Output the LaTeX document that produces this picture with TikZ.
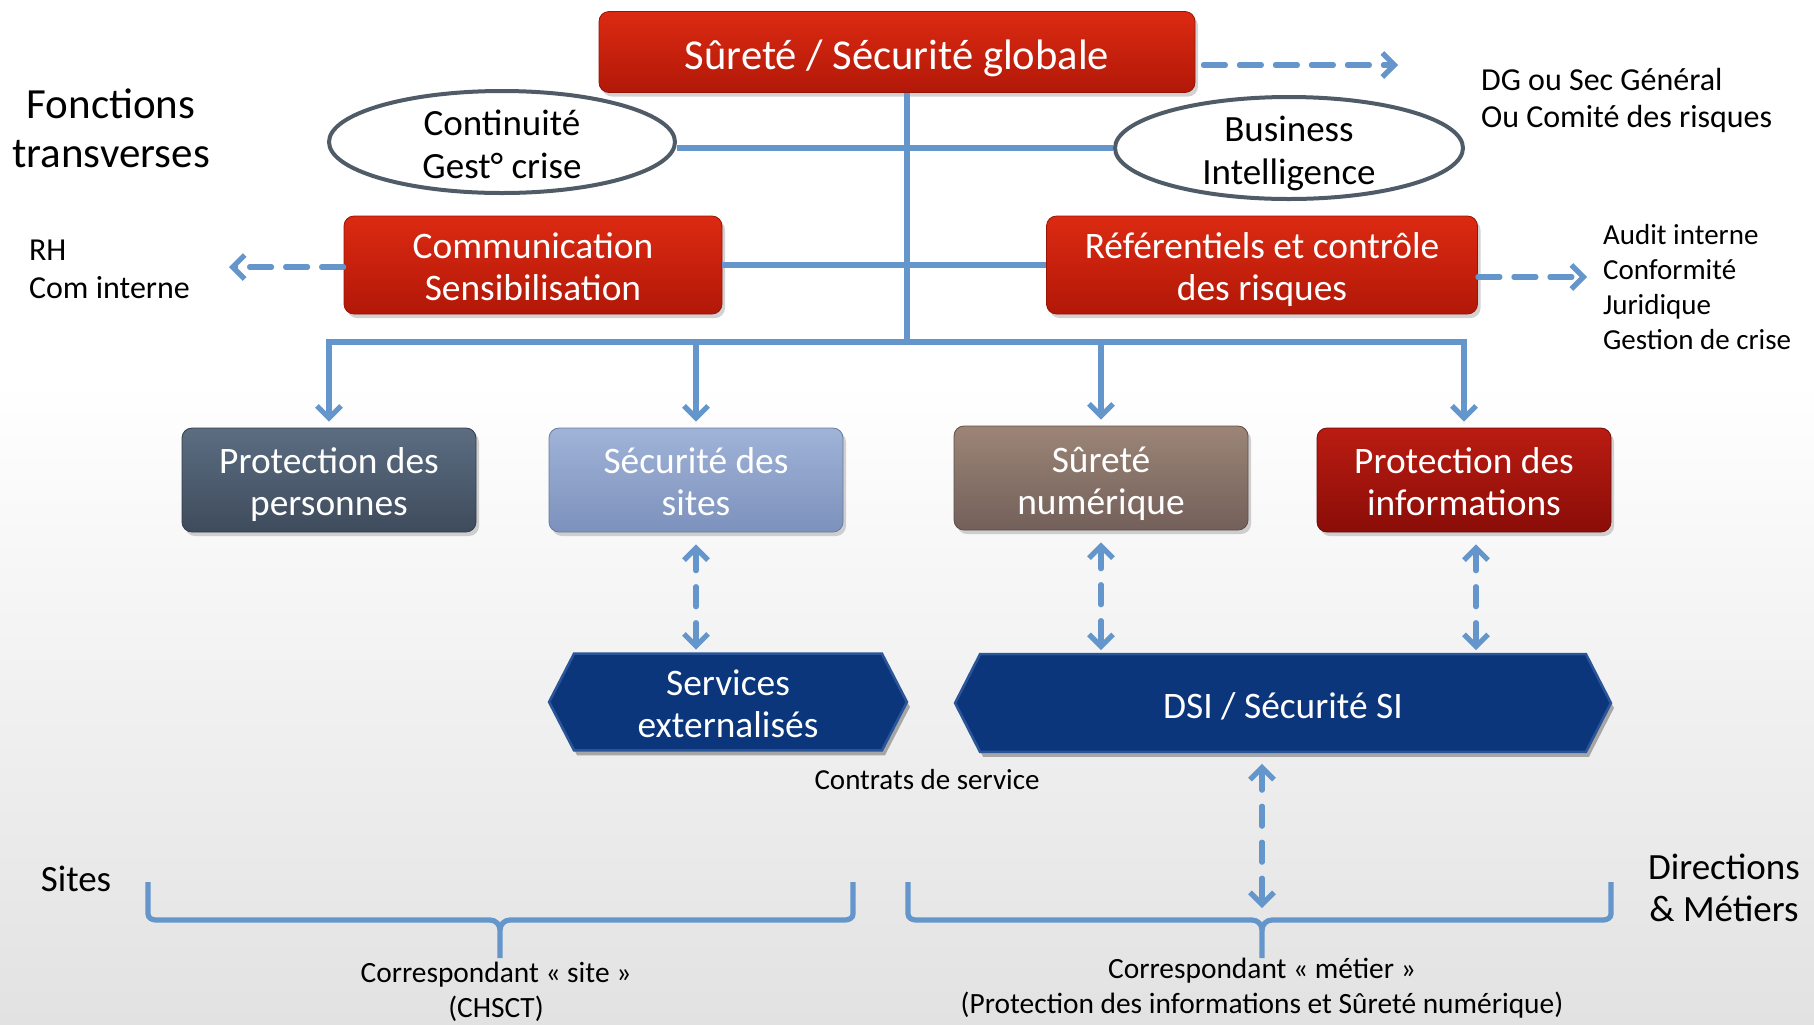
\documentclass[tikz,border=0pt]{standalone}
\usepackage{fontspec}
\setmainfont{Carlito}
\usetikzlibrary{shapes.geometric,arrows.meta,shadows,calc}
\definecolor{lnblue}{HTML}{6496CC}
\definecolor{redtop}{HTML}{DC2A12}
\definecolor{redbot}{HTML}{B21808}
\definecolor{elgray}{HTML}{4F5B66}
\definecolor{pptop}{HTML}{5C6D82}
\definecolor{ppbot}{HTML}{3E4B5C}
\definecolor{sstop}{HTML}{A0B3D8}
\definecolor{ssbot}{HTML}{7C91BC}
\definecolor{sntop}{HTML}{9C8577}
\definecolor{snbot}{HTML}{73605A}
\definecolor{pitop}{HTML}{BA1C12}
\definecolor{pibot}{HTML}{8A0D08}
\definecolor{hexblue}{HTML}{0B367C}
\definecolor{hexedge}{HTML}{2A5599}
\definecolor{bggray}{HTML}{E2E2E2}
\newcommand\myfs[2]{\fontsize{#1}{#2}\selectfont}
\newcommand\bt[2][3.2pt]{\raisebox{-#1}[\height][\depth]{\begin{tabular}{@{}c@{}}#2\end{tabular}}}
\pgfdeclarelayer{bg}
\pgfsetlayers{bg,main}
\begin{document}
\begin{tikzpicture}[x=0.5pt,y=-0.5pt,
  conn/.style={draw=lnblue,line width=2.6pt},
  arr/.style={conn,line cap=round,-{Straight Barb[length=6pt,width=12pt]}},
  darr/.style={arr,dash pattern=on 11pt off 7pt},
  ddarr/.style={conn,line cap=round,dash pattern=on 10pt off 8pt,{Straight Barb[length=6pt,width=12pt]}-{Straight Barb[length=6pt,width=12pt]}},
  box/.style={rounded corners=5pt,inner sep=0pt,text=white,
    font=\myfs{18.7}{21},drop shadow={opacity=0.35,shadow xshift=1.5pt,shadow yshift=-2pt}},
  redbox/.style={box,top color=redtop,bottom color=redbot,draw=redbot!85!black,line width=0.4pt},
  rowbox/.style={box,minimum width=147pt,minimum height=52pt,line width=0.4pt},
  ell/.style={ellipse,draw=elgray,line width=2pt,fill=white,minimum width=173pt,
    minimum height=51pt,inner sep=-6pt,font=\myfs{18.5}{21.5}},
  hexnode/.style={inner sep=0pt,text=white,font=\myfs{18.7}{21}},
  small/.style={align=left,font=\myfs{14.5}{17.5}},
  label/.style={align=center,font=\myfs{14.7}{17.5}}
]
\begin{pgfonlayer}{bg}
\fill[white] (0,0) rectangle (1814,381);
\shade[top color=white,bottom color=bggray] (0,380) rectangle (1814,1024);
\end{pgfonlayer}
\useasboundingbox (0,0) rectangle (1814,1024);

% top
\node[redbox,minimum width=298pt,minimum height=40.5pt,font=\myfs{21.3}{25}] (title) at (897,52) {\bt[3.5pt]{Sûreté / Sécurité globale}};
\node[ell] (cont) at (502,142) {\bt{Continuité\\Gest° crise}};
\node[ell,minimum width=174pt] (bi) at (1289,148) {\bt{Business\\Intelligence}};
\node[redbox,minimum width=189pt,minimum height=49pt] (com) at (533,265) {\bt{Communication\\Sensibilisation}};
\node[redbox,minimum width=215.5pt,minimum height=49pt] (ref) at (1262,265) {\bt{Référentiels et contrôle\\des risques}};

% side texts
\node[align=center,font=\myfs{21.5}{24.5}] (fonc) at (111,128) {Fonctions\\transverses};
\node[anchor=west,align=left,font=\myfs{16}{19}] (rh) at (22,269) {RH\\Com interne};
\node[anchor=west,align=left,font=\myfs{16}{18.5}] (dg) at (1474,100) {DG ou Sec Général\\Ou Comité des risques};
\node[anchor=west,small] (aud) at (1596,287) {Audit interne\\Conformité\\Juridique\\Gestion de crise};

% row boxes
\node[rowbox,top color=pptop,bottom color=ppbot,draw=ppbot!80!black] (pp) at (329,480) {\bt{Protection des\\personnes}};
\node[rowbox,top color=sstop,bottom color=ssbot,draw=ssbot!85!black] (ss) at (696,480) {\bt{Sécurité des\\sites}};
\node[rowbox,top color=sntop,bottom color=snbot,draw=snbot!80!black] (sn) at (1101,478) {\bt[3.5pt]{Sûreté\\numérique}};
\node[rowbox,top color=pitop,bottom color=pibot,draw=pibot!80!black] (pi) at (1464,480) {\bt{Protection des\\informations}};

% hexagons
\node[hexnode,minimum width=178.5pt,minimum height=48pt] (sv) at (728,702) {\bt[2.9pt]{Services\\externalisés}};
\node[hexnode,minimum width=327.5pt,minimum height=48.5pt] (dsi) at (1283,703) {\bt[3.5pt]{DSI / Sécurité SI}};
\begin{pgfonlayer}{bg}
\foreach \n in {sv,dsi}{
  \fill[black,opacity=0.3] ([shift={(1.5pt,-2.5pt)}]\n.west) -- ([shift={(14pt,-2.5pt)}]\n.north west)
    -- ([shift={(-11pt,-2.5pt)}]\n.north east) -- ([shift={(1.5pt,-2.5pt)}]\n.east)
    -- ([shift={(-11pt,-2.5pt)}]\n.south east) -- ([shift={(14pt,-2.5pt)}]\n.south west) -- cycle;
  \filldraw[fill=hexblue,draw=hexedge,line width=1.3pt] (\n.west) -- ([xshift=12.5pt]\n.north west)
    -- ([xshift=-12.5pt]\n.north east) -- (\n.east) -- ([xshift=-12.5pt]\n.south east)
    -- ([xshift=12.5pt]\n.south west) -- cycle;
}
\end{pgfonlayer}

\node[font=\myfs{14.5}{17.5}] (ctr) at (927,780) {Contrats de service};

% bottom texts
\node[font=\myfs{18.5}{21}] (sites) at (76,879) {Sites};
\node[align=center,font=\myfs{18.5}{21}] (dir) at (1724,888) {Directions\\\& Métiers};
\node[label] (corS) at (496,992) {Correspondant « site »\\(CHSCT)};
\node[label] (corM) at (1262,988) {Correspondant « métier »\\(Protection des informations et Sûreté numérique)};

% connectors
\coordinate (bus) at (907,342);
\draw[conn] (title.south -| bus) -- (bus);
\draw[conn] (cont.east |- bi.west) -- (bi.west);
\draw[conn] (com.east) -- (ref.west);
\draw[arr,shorten >=3pt] (bus) -| (pp.north);
\draw[arr,shorten >=3pt] (bus) -| (pi.north);
\draw[arr,shorten >=3pt] (ss.north |- bus) -- (ss.north);
\draw[arr,shorten >=3pt] (sn.north |- bus) -- (sn.north);

\coordinate (dgtip) at (1398,65);
\draw[darr] ([xshift=4pt]title.east |- dgtip) -- (dgtip);
\coordinate (rhtip) at (229,267);
\draw[darr] (com.west |- rhtip) -- (rhtip);
\coordinate (audtip) at (1587,277);
\draw[darr] (ref.east |- audtip) -- (audtip);

% braces
\coordinate (bLl) at (148,882);
\coordinate (bLr) at (853,882);
\coordinate (bLm) at (500,920);
\coordinate (bRl) at (908,882);
\coordinate (bRr) at (1611,882);
\coordinate (bRm) at (1262,920);
\draw[conn] (bLl) -- ++(0,32) to[out=-90,in=180] ++(8,6) -- ([xshift=-5pt]bLm) to[out=0,in=90] ++(10,10) -- ++(0,28);
\draw[conn] ($(bLm)+(0,10)$) to[out=90,in=180] ++(10,-10) -- ($(bLr|-bLm)+(-8,0)$) to[out=0,in=-90] ++(8,-6) -- (bLr);
\draw[conn] (bRl) -- ++(0,32) to[out=-90,in=180] ++(8,6) -- ([xshift=-5pt]bRm) to[out=0,in=90] ++(10,10) -- ++(0,28);
\draw[conn] ($(bRm)+(0,10)$) to[out=90,in=180] ++(10,-10) -- ($(bRr|-bRm)+(-8,0)$) to[out=0,in=-90] ++(8,-6) -- (bRr);

% double arrows
\draw[ddarr,shorten <=6pt,shorten >=2pt] (ss.south) -- (ss.south |- sv.north);
\draw[ddarr,shorten <=6pt,shorten >=2pt] (sn.south) -- (sn.south |- dsi.north);
\draw[ddarr,shorten <=6pt,shorten >=2pt] ([xshift=6pt]pi.south) -- ([xshift=6pt]pi.south |- dsi.north);
\draw[ddarr,shorten <=6pt,shorten >=6pt] (bRm |- dsi.south) -- (bRm);
\end{tikzpicture}
\end{document}
